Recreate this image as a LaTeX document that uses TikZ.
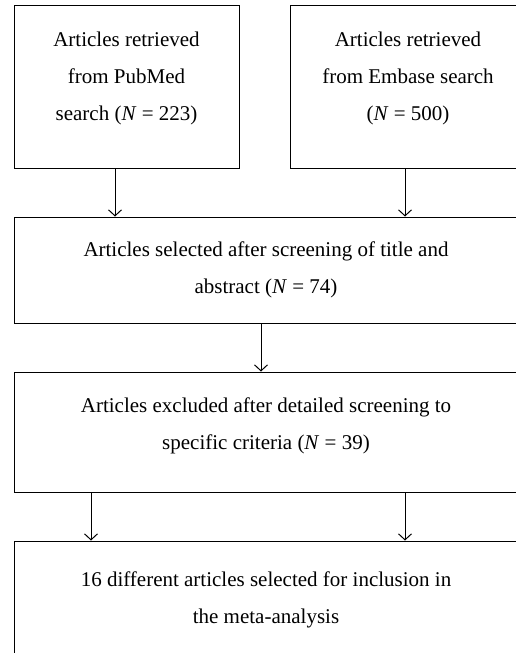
\documentclass[tikz,border=0pt]{standalone}
\usepackage{fontspec}
\setmainfont{Liberation Serif}
\usetikzlibrary{arrows.meta}
\tikzstyle{box}=[rectangle,draw=black,line width=1pt,inner sep=0pt,align=center,
  font=\fontsize{21}{37}\selectfont]
\tikzstyle{arr}=[line width=1pt,-{Straight Barb[length=6pt,width=13pt]}]

\begin{document}
\begin{tikzpicture}[x=1pt, y=-1pt]
            \useasboundingbox (0, 0) rectangle (516, 653);
            \node [style=box, minimum width=225pt, minimum height=163pt, text depth=21pt] (0) at (126.5, 86.5) {Articles retrieved\\from PubMed\\search (\textit{N} = 223)};
            \node [style=box, minimum width=236pt, minimum height=163pt, text depth=21pt] (1) at (408, 86.5) {Articles retrieved\\from Embase search\\(\textit{N} = 500)};
            \node [style=box, minimum width=504pt, minimum height=106pt] (2) at (266, 270) {Articles selected after screening of title and\\abstract (\textit{N} = 74)};
            \node [style=box, minimum width=504pt, minimum height=120pt, text depth=17pt] (3) at (266, 432) {Articles excluded after detailed screening to\\specific criteria (\textit{N} = 39)};
            \node [style=box, minimum width=504pt, minimum height=118pt] (4) at (266, 600) {16 different articles selected for inclusion in\\the meta-analysis};
            \draw [style=arr] ([xshift=-11.5pt]0.south) to ([xshift=-11.5pt]0.south |- 2.north);
            \draw [style=arr] ([xshift=-3pt]1.south) to ([xshift=-3pt]1.south |- 2.north);
            \draw [style=arr] ([xshift=-5pt]2.south) to ([xshift=-5pt]2.south |- 3.north);
            \draw [style=arr] ([xshift=-175pt]3.south) to ([xshift=-175pt]3.south |- 4.north);
            \draw [style=arr] ([xshift=139pt]3.south) to ([xshift=139pt]3.south |- 4.north);
    \end{tikzpicture}
\end{document}
